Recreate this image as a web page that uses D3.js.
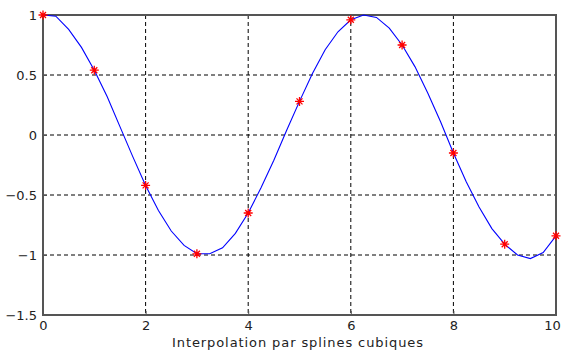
<!DOCTYPE html>
<html>
<head>
<meta charset="utf-8">
<script src="https://cdn.jsdelivr.net/npm/d3@7"></script>
<style>
  body { margin: 0; background: #fff; }
  text { font-family: "DejaVu Sans", "Liberation Sans", Arial, sans-serif; }
</style>
</head>
<body>
<script>
// sample points (x = 0..10)
var xs = [0, 1, 2, 3, 4, 5, 6, 7, 8, 9, 10];
var ys = [1, 0.54, -0.42, -0.99, -0.65, 0.28, 0.96, 0.75, -0.15, -0.91, -0.84];

// the blue spline as drawn (a polyline, step 0.25)
var splineX = [0, 0.25, 0.5, 0.75, 1, 1.25, 1.5, 1.75, 2, 2.25, 2.5, 2.75, 3, 3.25, 3.5, 3.75,
  4, 4.25, 4.5, 4.75, 5, 5.25, 5.5, 5.75, 6, 6.25, 6.5, 6.75, 7, 7.25, 7.5, 7.75,
  8, 8.25, 8.5, 8.75, 9, 9.25, 9.5, 9.75, 10];
var splineY = [1.00, 0.99, 0.88, 0.73, 0.54, 0.32, 0.07, -0.18, -0.42, -0.63, -0.80, -0.92,
  -0.99, -0.99, -0.94, -0.82, -0.65, -0.44, -0.21, 0.04, 0.28, 0.51, 0.71, 0.86,
  0.96, 1.00, 0.98, 0.89, 0.75, 0.57, 0.35, 0.11, -0.15, -0.39, -0.60, -0.78,
  -0.91, -1.00, -1.03, -0.98, -0.84];

var xTicks = [0, 2, 4, 6, 8, 10];
var yTicks = [1, 0.5, 0, -0.5, -1, -1.5];
var xLabel = 'Interpolation par splines cubiques';

var w = 561, h = 352;
var padL = 43, padR = 556, padT = 15, padB = 315;

var svg = d3.select('body')
  .append('svg')
  .attr('width', w)
  .attr('height', h);

// SCALES
var xScale = d3.scaleLinear().domain([0, 10]).range([padL, padR]);
var yScale = d3.scaleLinear().domain([-1.5, 1]).range([padB, padT]);

var pts = xs.map((x, i) => [x, ys[i]]);
var curvePts = splineX.map((x, i) => [x, splineY[i]]);

// GRID (dashed)
svg.append('g')
  .selectAll('line')
  .data(xTicks.slice(1, -1))
  .enter()
  .append('line')
    .attr('x1', d => xScale(d)).attr('x2', d => xScale(d))
    .attr('y1', padT).attr('y2', padB)
    .attr('stroke', '#000')
    .attr('stroke-dasharray', '4,3');

svg.append('g')
  .selectAll('line')
  .data(yTicks.slice(1, -1))
  .enter()
  .append('line')
    .attr('y1', d => yScale(d)).attr('y2', d => yScale(d))
    .attr('x1', padL).attr('x2', padR)
    .attr('stroke', '#000')
    .attr('stroke-dasharray', '4,3');

// AXES (ticks pointing inward, like matlab)
var xAxis = d3.axisBottom(xScale).tickValues(xTicks).tickSizeInner(-4).tickSizeOuter(0).tickPadding(6);
var yAxis = d3.axisLeft(yScale).tickValues(yTicks).tickSizeInner(-4).tickSizeOuter(0).tickPadding(6)
  .tickFormat(d3.format('~g'));

var gx = svg.append('g')
  .attr('transform', `translate(0,${padB})`)
  .call(xAxis)
  .call(g => g.select('.domain').remove());
gx.selectAll('line').attr('stroke', '#555');
gx.selectAll('text')
    .attr('font-size', 13)
    .attr('fill', '#222')
    .attr('dx', d => d === 10 ? -4 : 0);

var gy = svg.append('g')
  .attr('transform', `translate(${padL},0)`)
  .call(yAxis)
  .call(g => g.select('.domain').remove());
gy.selectAll('line').attr('stroke', '#555');
gy.selectAll('text')
    .attr('font-size', 13)
    .attr('fill', '#222');

// box
svg.append('rect')
  .attr('x', padL).attr('y', padT)
  .attr('width', padR - padL).attr('height', padB - padT)
  .attr('fill', 'none')
  .attr('stroke', '#555')
  .attr('stroke-width', 2);

// SPLINE CURVE
var line = d3.line()
  .x(d => xScale(d[0]))
  .y(d => yScale(d[1]));

svg.append('path')
  .datum(curvePts)
  .attr('d', line)
  .attr('fill', 'none')
  .attr('stroke', '#0000ff')
  .attr('stroke-width', 1.1);

// MARKERS (asterisks)
var star = svg.append('g')
  .selectAll('g')
  .data(pts)
  .enter()
  .append('g')
    .attr('transform', d => `translate(${xScale(d[0])},${yScale(d[1])})`);

star.append('path')
  .attr('d', 'M-4.5,0H4.5M0,-4.5V4.5M-3,-3L3,3M-3,3L3,-3')
  .attr('stroke', '#ff0000')
  .attr('stroke-width', 1.3);

// x label
svg.append('text')
  .attr('x', 172)
  .attr('y', 347)
  .attr('textLength', 251)
  .attr('lengthAdjust', 'spacing')
  .attr('font-size', 13)
  .attr('fill', '#222')
  .text(xLabel);
</script>
</body>
</html>
